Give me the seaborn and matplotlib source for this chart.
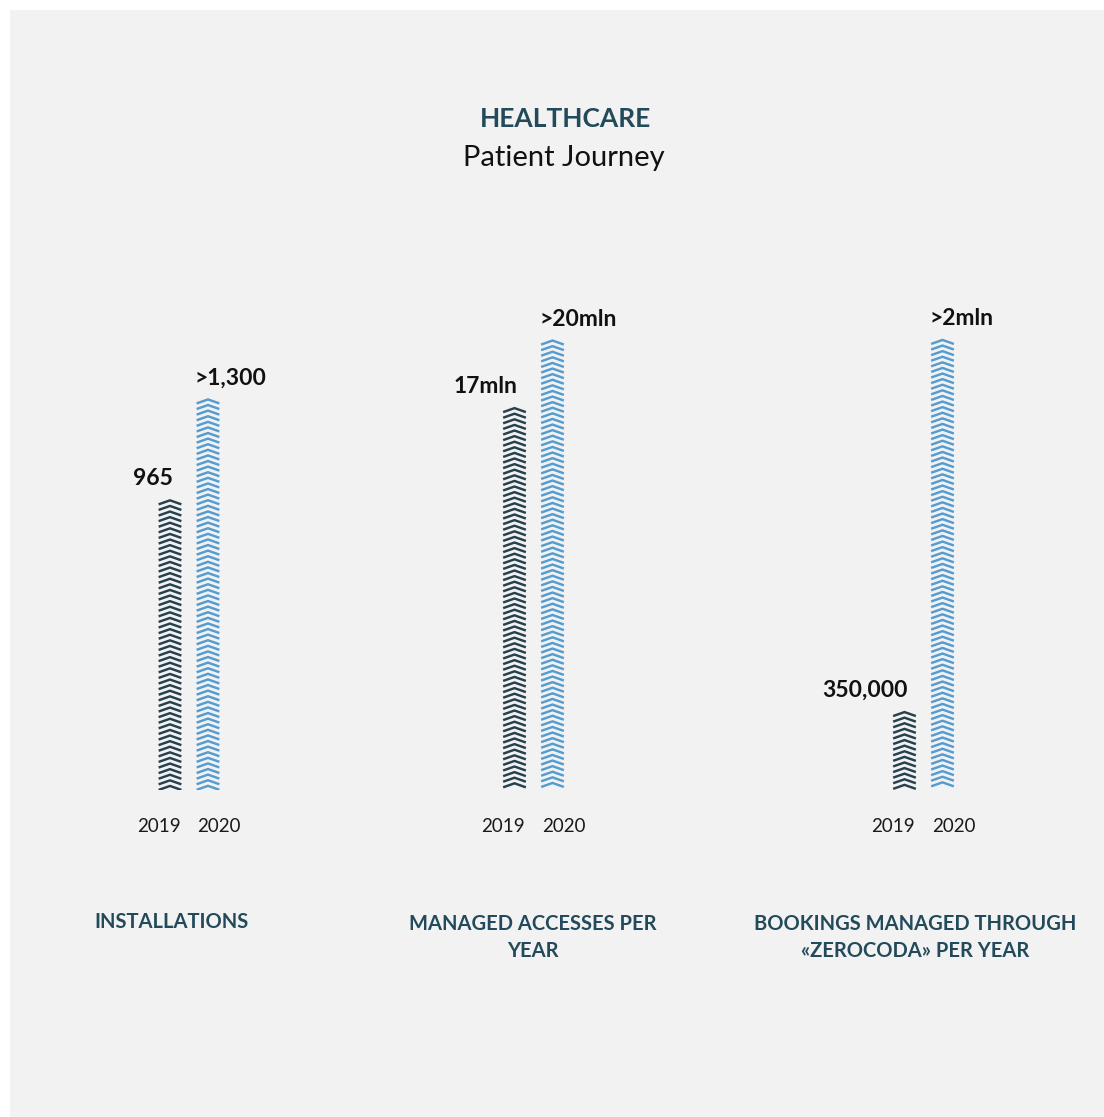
import numpy as np
import pandas as pd
import matplotlib
matplotlib.use("Agg")
import matplotlib.pyplot as plt
from matplotlib.patches import Rectangle
from matplotlib.lines import Line2D
import seaborn as sns

# ---------------- data ----------------
years = ["2019", "2020"]
installations = [965, 1300]
accesses_mln = [17, 20]
bookings_mln = [0.35, 2]
installations_labels = ["965", ">1,300"]
accesses_labels = ["17mln", ">20mln"]
bookings_labels = ["350,000", ">2mln"]
panel_titles = ["INSTALLATIONS", "MANAGED ACCESSES PER\nYEAR",
                "BOOKINGS MANAGED THROUGH\n«ZEROCODA» PER YEAR"]
title = "HEALTHCARE"
subtitle = "Patient Journey"

# ---------------- style ----------------
sns.set_theme(style="white")
plt.rcParams["font.family"] = ["Lato", "DejaVu Sans"]

W, H = 1104, 1117
DPI = 100
BG = "#f2f2f2"
DARK = "#1f4353"
LIGHT = "#419fe4"
TEAL = "#234a5b"

fig = plt.figure(figsize=(W / DPI, H / DPI), dpi=DPI, facecolor="white")
fig.patches.append(Rectangle((10 / W, 0), 1 - 10 / W, 1 - 10 / H,
                             transform=fig.transFigure, facecolor=BG,
                             edgecolor="none", zorder=-10))

def px_box(cx, width_px, bottom_px, height_px):
    left = (cx - width_px / 2) / W
    bottom = (H - bottom_px) / H
    return [left, bottom, width_px / W, height_px / H]

panels = [
    (installations, installations_labels, 189.0, 1660.0, 172),
    (accesses_mln, accesses_labels, 533.5, 22.2, 533),
    (bookings_mln, bookings_labels, 923.5, 2.217, 915),
]

AX_W = 228  # px, pitch of 38 px per category with xlim (-2.5, 3.5)
AX_H = 500
BASE = 790

for (vals, labs, cx, ytop, tcx), ptitle in zip(panels, panel_titles):
    ax = fig.add_axes(px_box(cx, AX_W, BASE, AX_H))
    ax.set_facecolor("none")
    df = pd.DataFrame({"year": years, "value": vals})
    sns.barplot(data=df, x="year", y="value", hue="year",
                palette=[DARK, LIGHT], legend=False, ax=ax, width=0.63,
                errorbar=None)
    ax.set_xlim(-2.5, 3.5)
    ax.set_ylim(0, ytop)
    ax.axis("off")

    bars = [p for p in ax.patches if np.isfinite(p.get_height()) and p.get_height() > 0]
    bars.sort(key=lambda p: p.get_x())
    inv = ax.transData.inverted()
    for i, p in enumerate(bars):
        color = p.get_facecolor()
        p.set_facecolor("none")
        p.set_edgecolor("none")
        x0, x1 = p.get_x(), p.get_x() + p.get_width()
        h = p.get_height()
        (dx0, dy0) = ax.transData.transform((x0, 0))
        (dx1, dy1) = ax.transData.transform((x1, h))
        dxc = (dx0 + dx1) / 2
        rise, step = 4.0, 5.6
        y = dy1 - 1.0
        while y - rise >= dy0 - 0.5:
            pts = np.array([[dx0 + 0.6, y - rise], [dxc, y], [dx1 - 0.6, y - rise]])
            d = inv.transform(pts)
            ax.add_line(Line2D(d[:, 0], d[:, 1], color=color, lw=1.75,
                               solid_capstyle="butt", solid_joinstyle="miter"))
            y -= step

        # value label
        if i == 0:
            ax.annotate(labs[i], xy=((x0 + x1) / 2, h), xytext=(2, 10),
                        textcoords="offset points", ha="right", va="baseline",
                        fontsize=16.5, fontweight="bold", color="#111111")
            ax.annotate(years[i], xy=(x1, 0), xytext=(-1, -30),
                        textcoords="offset points", ha="right", va="baseline",
                        fontsize=13.5, color="#1a1a1a")
        else:
            ax.annotate(labs[i], xy=(x0, h), xytext=(-1, 10),
                        textcoords="offset points", ha="left", va="baseline",
                        fontsize=16.5, fontweight="bold", color="#111111")
            ax.annotate(years[i], xy=(x0, 0), xytext=(1, -30),
                        textcoords="offset points", ha="left", va="baseline",
                        fontsize=13.5, color="#1a1a1a")

    nlines = ptitle.count("\n") + 1
    fig.text(tcx / W, (H - 928 - 29 * (nlines - 1)) / H, ptitle, ha="center",
             va="baseline", fontsize=14.5, fontweight="bold", color=TEAL,
             linespacing=1.45, multialignment="center")

fig.text(565 / W, (H - 127) / H, title, ha="center", va="baseline",
         fontsize=19, fontweight="bold", color=TEAL)
fig.text(564 / W, (H - 166) / H, subtitle, ha="center", va="baseline",
         fontsize=21, color="#111111")

fig.savefig("out.png", dpi=DPI, facecolor=fig.get_facecolor())
